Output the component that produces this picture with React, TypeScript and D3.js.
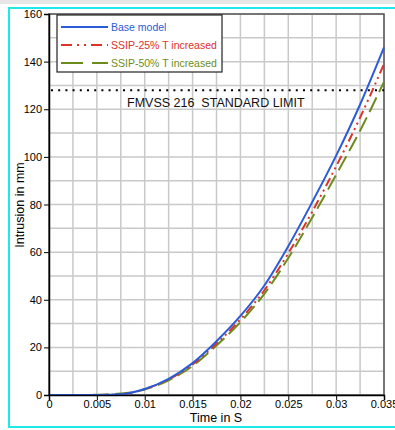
import React, { useEffect, useRef } from "react";
import * as d3 from "d3";

// time samples (s) and intrusion (mm)
const times = [0, 0.0025, 0.005, 0.0075, 0.01, 0.0125, 0.015, 0.0175, 0.02, 0.0225, 0.025, 0.0275, 0.03, 0.0325, 0.035];
const baseModel = [0, 0, 0, 0.3, 2.5, 6.8, 13.4, 22.6, 33.2, 46, 62.5, 81, 100.5, 122, 146];
const ssip25 = [0, 0, 0, 0.3, 2.5, 6.5, 12.8, 21.6, 31.8, 44, 59.5, 77, 96, 116.5, 139];
const ssip50 = [0, 0, 0.1, 0.6, 2.3, 6.2, 12.2, 20.8, 30.6, 42.5, 57.5, 74.5, 92.5, 111, 131.5];

const seriesNames = ["Base model", "SSIP-25% T increased", "SSIP-50% T increased"];
const seriesColors = ["#2b5cd8", "#e0302a", "#6b8c1c"];
const seriesDash = ["none", "9,4,2,4,2,4", "16,6"];

const yTicks = [0, 20, 40, 60, 80, 100, 120, 140, 160];
const xTicks = [0, 0.005, 0.01, 0.015, 0.02, 0.025, 0.03, 0.035];
const limitValue = 128;
const limitLabel = "FMVSS 216  STANDARD LIMIT";

const FONT = "'Liberation Sans', Arial, sans-serif";

export default function App() {
  const ref = useRef<SVGSVGElement>(null);

  useEffect(() => {
    const svg = d3.select(ref.current);
    svg.selectAll("*").remove();

    const left = 49, right = 384, top = 14, bottom = 395;

    const x = d3.scaleLinear().domain([0, 0.035]).range([left, right]);
    const y = d3.scaleLinear().domain([0, 160]).range([bottom, top]);

    // window chrome
    svg.append("rect").attr("x", 0).attr("y", 0).attr("width", 395).attr("height", 4).attr("fill", "#e6e6e6");
    svg.append("rect").attr("x", 9).attr("y", 8).attr("width", 392).attr("height", 419)
      .attr("fill", "none").attr("stroke", "#1ee8e8").attr("stroke-width", 2);

    // grid
    const grid = svg.append("g");
    grid.selectAll("line.gx")
      .data(d3.range(0, 15).map((i) => i * 0.0025))
      .enter().append("line")
      .attr("x1", (d) => x(d)).attr("x2", (d) => x(d))
      .attr("y1", top).attr("y2", bottom)
      .attr("stroke", "#c9c9c9").attr("stroke-width", 1.5);
    grid.selectAll("line.gy")
      .data(d3.range(0, 17).map((i) => i * 10))
      .enter().append("line")
      .attr("x1", left).attr("x2", right)
      .attr("y1", (d) => y(d)).attr("y2", (d) => y(d))
      .attr("stroke", "#c9c9c9").attr("stroke-width", 1.5);

    // plot frame
    svg.append("rect").attr("x", left).attr("y", top).attr("width", right - left).attr("height", bottom - top)
      .attr("fill", "none").attr("stroke", "#555").attr("stroke-width", 1.5);

    // limit line
    svg.append("line")
      .attr("x1", left + 2).attr("x2", right)
      .attr("y1", y(limitValue)).attr("y2", y(limitValue))
      .attr("stroke", "#000").attr("stroke-width", 2).attr("stroke-dasharray", "2,5.2");
    svg.append("text").text(limitLabel)
      .attr("x", 127).attr("y", y(limitValue) + 17)
      .attr("font-family", FONT).attr("font-size", 12.5).attr("fill", "#111")
      .style("white-space", "pre");

    // series
    const line = d3.line<number>()
      .x((d, i) => x(times[i]))
      .y((d) => y(d))
      .curve(d3.curveMonotoneX);
    [ssip50, ssip25, baseModel].forEach((vals, k) => {
      const idx = 2 - k;
      svg.append("path").attr("d", line(vals) as string)
        .attr("fill", "none").attr("stroke", seriesColors[idx])
        .attr("stroke-width", 2)
        .attr("stroke-dasharray", seriesDash[idx]);
    });

    // axes
    const yAxis = svg.append("g").attr("transform", `translate(${left},0)`)
      .call(d3.axisLeft(y).tickValues(yTicks).tickSize(5).tickPadding(2).tickFormat(d3.format("d")));
    const xAxis = svg.append("g").attr("transform", `translate(0,${bottom})`)
      .call(d3.axisBottom(x).tickValues(xTicks).tickSize(5).tickPadding(1).tickFormat((d) => String(+d)));
    [yAxis, xAxis].forEach((a) => {
      a.selectAll("text").attr("font-family", FONT).attr("font-size", 11).attr("fill", "#000");
      a.select(".domain").attr("stroke", "#000").attr("stroke-width", 1.5);
      a.selectAll(".tick line").attr("stroke", "#000");
    });
    xAxis.selectAll("text").attr("dy", "0.6em");

    svg.append("text").text("Time in S")
      .attr("x", 216).attr("y", 422).attr("text-anchor", "middle")
      .attr("font-family", FONT).attr("font-size", 12.5).attr("fill", "#000");
    svg.append("text").text("Intrusion in mm")
      .attr("transform", "translate(24,205) rotate(-90)").attr("text-anchor", "middle")
      .attr("font-family", FONT).attr("font-size", 12.5).attr("fill", "#000");

    // legend
    const lg = svg.append("g").attr("transform", "translate(57,15)");
    lg.append("rect").attr("width", 165).attr("height", 57)
      .attr("fill", "#fff").attr("stroke", "#222").attr("stroke-width", 1.2);
    seriesNames.forEach((name, i) => {
      const yy = 12 + i * 18;
      lg.append("line").attr("x1", 4).attr("x2", 51).attr("y1", yy).attr("y2", yy)
        .attr("stroke", seriesColors[i]).attr("stroke-width", 2)
        .attr("stroke-dasharray", i === 0 ? "none" : i === 1 ? "11,5,2,5,2,5" : "22,9");
      lg.append("text").text(name)
        .attr("x", 54).attr("y", yy + 4)
        .attr("font-family", FONT).attr("font-size", 10.5).attr("fill", seriesColors[i]);
    });
  }, []);

  return (
    <div style={{ position: "absolute", left: 0, top: 0 }}>
      <svg ref={ref} width={395} height={430} style={{ display: "block", background: "#fff" }} />
    </div>
  );
}
